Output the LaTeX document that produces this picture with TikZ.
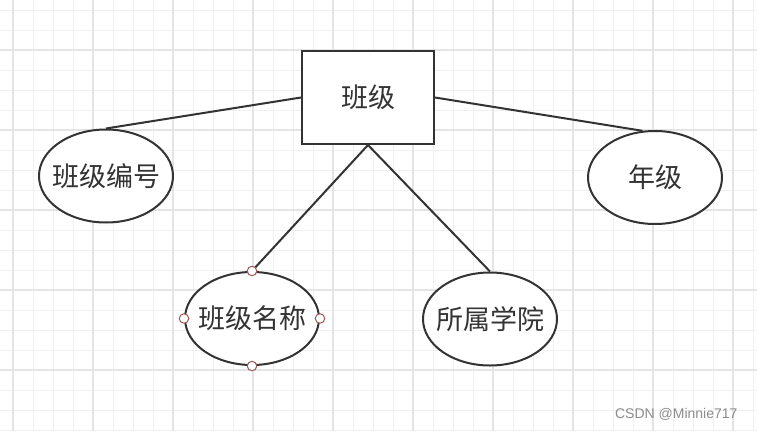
\documentclass[tikz,border=0pt]{standalone}
\usepackage{fontspec}
\newfontfamily\cjk{Noto Sans CJK SC}
\setsansfont{Liberation Sans}
\usetikzlibrary{shapes.geometric}
\definecolor{gridminor}{HTML}{F0F0F0}
\definecolor{gridmajor}{HTML}{E4E4E4}
\definecolor{ink}{HTML}{333333}
\definecolor{handle}{HTML}{A05858}
\tikzset{
  entity/.style={draw=ink, line width=2pt, fill=white, minimum width=132pt, minimum height=93pt, inner sep=0pt, font=\cjk\fontsize{27}{32}\selectfont, text=ink},
  attr/.style={draw=ink, line width=2pt, fill=white, ellipse, minimum width=134pt, minimum height=93pt, inner sep=0pt},
  lbl/.style={font=\cjk\fontsize{27}{32}\selectfont, text=ink, inner sep=0pt},
  link/.style={draw=ink, line width=2pt},
  hdl/.style={circle, draw=handle, line width=1pt, fill=white, minimum size=9.5pt, inner sep=0pt}
}
\begin{document}
\begin{tikzpicture}[x=1pt,y=-1pt]
\useasboundingbox (0,0) rectangle (757,431);
\fill[white] (0,0) rectangle (757,431);
\foreach \x in {33,53,73,113,133,153,193,213,233,273,293,313,353,373,393,433,453,473,513,533,553,593,613,633,673,693,713,753}
  \draw[gridminor, line width=1pt] (\x,0) -- (\x,431);
\foreach \y in {10,30,70,90,110,150,170,190,230,250,270,310,330,350,390,410,430}
  \draw[gridminor, line width=1pt] (0,\y) -- (757,\y);
\foreach \x in {13,93,173,253,333,413,493,573,653,733}
  \draw[gridmajor, line width=1.2pt] (\x,0) -- (\x,431);
\foreach \y in {50,130,210,290,370}
  \draw[gridmajor, line width=1.2pt] (0,\y) -- (757,\y);

\node[entity] (cls) at (368,97.5) {班级};
\node[attr, label={[lbl]center:班级编号}] (num) at (106,176) {};
\node[attr, label={[lbl]center:年级}] (grade) at (655,177.5) {};
\node[attr, label={[lbl]center:班级名称}] (name) at (252,318.5) {};
\node[attr, label={[lbl]center:所属学院}] (coll) at (490,319) {};

\draw[link] (cls.west) -- (num.north);
\draw[link] (cls.east) -- (grade.105);
\draw[link] (cls.south) -- (name.north);
\draw[link] (cls.south) -- (coll.north);

\node[hdl] (h1) at (name.north) {};
\node[hdl] (h2) at (name.south) {};
\node[hdl] (h3) at (name.west) {};
\node[hdl] (h4) at (name.east) {};

\node[font=\sffamily\fontsize{14}{16}\selectfont, text=black!45, anchor=east] (wm) at (741,414) {CSDN @Minnie717};
\end{tikzpicture}
\end{document}
